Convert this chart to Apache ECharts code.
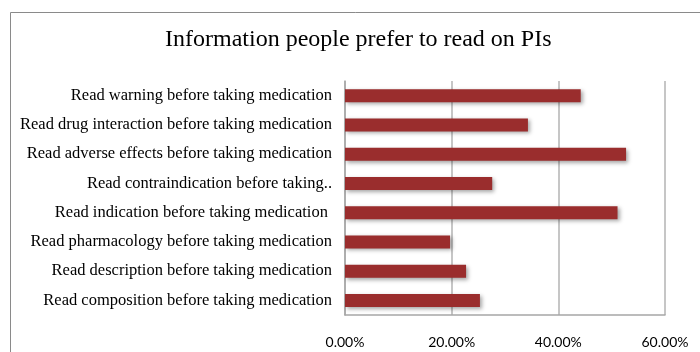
<!DOCTYPE html>
<html>
<head>
<meta charset="utf-8">
<script src="https://cdn.jsdelivr.net/npm/echarts@6/dist/echarts.min.js"></script>
<style>html,body{margin:0;padding:0;background:#fff}#c{width:700px;height:352px}</style>
</head>
<body>
<div id="c"></div>
<script>
var categories = [
  "Read warning before taking medication",
  "Read drug interaction before taking medication",
  "Read adverse effects before taking medication",
  "Read contraindication before taking..",
  "Read indication before taking medication ",
  "Read pharmacology before taking medication",
  "Read description before taking medication",
  "Read composition before taking medication"
];
var values = [44.2, 34.3, 52.7, 27.6, 51.1, 19.7, 22.7, 25.3];
var titleText = "Information people prefer to read on PIs";

var chart = echarts.init(document.getElementById('c'), null, {renderer: 'canvas'});
chart.setOption({
  animation: false,
  backgroundColor: '#fff',
  graphic: [{
    type: 'rect', shape: {x: 10.5, y: 12.5, width: 720, height: 360},
    style: {fill: null, stroke: '#8a8a8a', lineWidth: 1}, silent: true
  }, {
    type: 'text', x: 165, y: 39.5,
    style: {
      text: titleText, font: 'normal 24px "Liberation Serif"', fill: '#000',
      textAlign: 'left', textVerticalAlign: 'middle'
    }
  }],
  grid: {left: 345, right: 35, top: 81, bottom: 37, containLabel: false},
  xAxis: {
    type: 'value', min: 0, max: 60, interval: 20,
    axisLine: {show: true, lineStyle: {color: '#a6a6a6', width: 1.5}},
    axisTick: {show: false},
    splitLine: {show: true, lineStyle: {color: '#b3b3b3', width: 1.5}},
    axisLabel: {
      margin: 20, fontFamily: 'Lato', fontSize: 14, color: '#000',
      formatter: function (v) { return v.toFixed(2) + '%'; }
    }
  },
  yAxis: {
    type: 'category', data: categories, inverse: true,
    axisLine: {show: true, lineStyle: {color: '#a6a6a6', width: 1.5}},
    axisTick: {show: false},
    axisLabel: {margin: 13, fontFamily: 'Liberation Serif', fontSize: 16.5, color: '#000'}
  },
  series: [{
    type: 'bar', data: values, barWidth: 13,
    itemStyle: {
      color: '#9a2d2d',
      shadowColor: 'rgba(0,0,0,0.35)', shadowBlur: 4, shadowOffsetX: 2, shadowOffsetY: 2
    }
  }]
});
</script>
</body>
</html>
